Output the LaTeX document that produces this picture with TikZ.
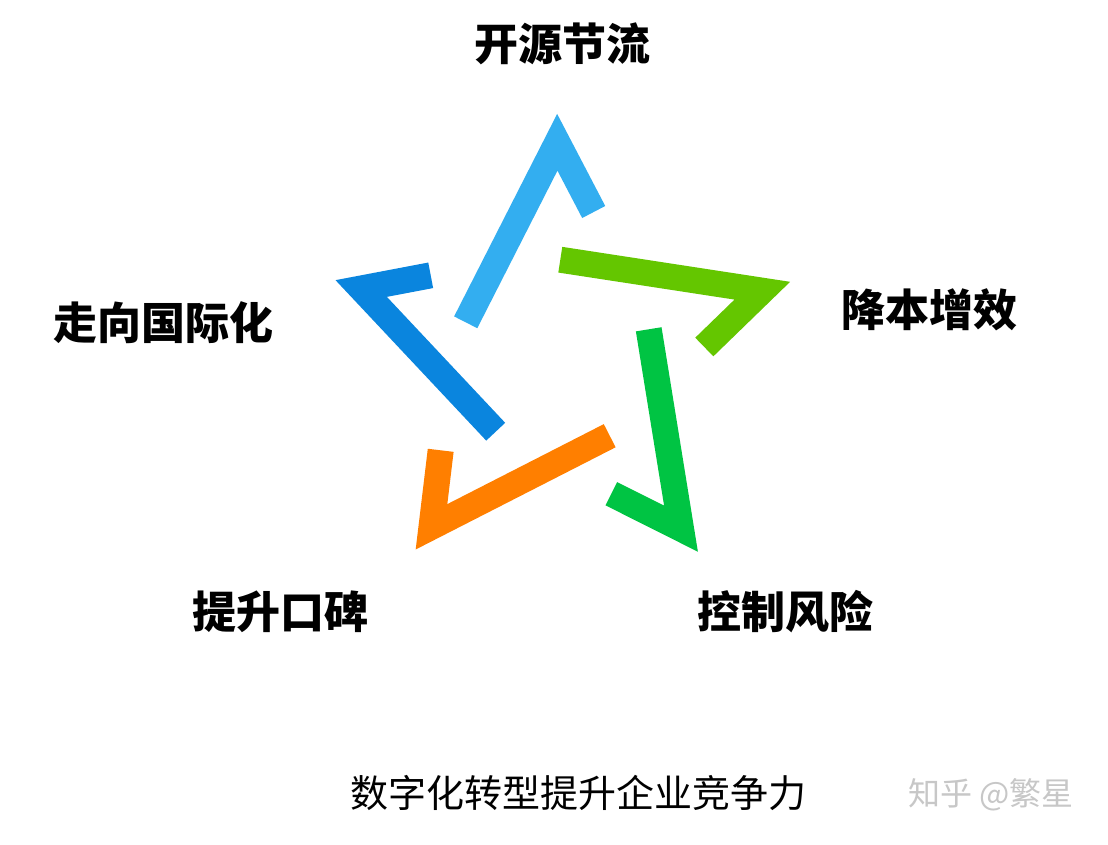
\documentclass[tikz,border=0pt]{standalone}
\usepackage{fontspec}
\newfontfamily\cjk{Noto Sans CJK SC}
\definecolor{cLightBlue}{RGB}{51,174,240}
\definecolor{cBlue}{RGB}{10,133,222}
\definecolor{cLime}{RGB}{100,198,0}
\definecolor{cGreen}{RGB}{0,196,67}
\definecolor{cOrange}{RGB}{255,127,0}
\begin{document}
\begin{tikzpicture}[x=1pt,y=-1pt,
  arm/.style={line width=26pt,line join=miter,miter limit=10,line cap=butt},
  lbl/.style={font=\cjk\bfseries\fontsize{44}{50}\selectfont,inner sep=0pt,text=black},
  ttl/.style={font=\cjk\fontsize{38}{44}\selectfont,inner sep=0pt,text=black},
  wm/.style={font=\cjk\fontsize{32}{38}\selectfont,inner sep=0pt,text=black!22}]
\useasboundingbox[fill=white] (0,0) rectangle (1108,844);
% light blue (top)
\draw[arm,cLightBlue] (465.7,322.3) -- (557.3,142.3) -- (593.7,212);
% lime (right)
\draw[arm,cLime] (560.3,259.7) -- (762.3,290.7) -- (704.3,347);
% green (bottom right)
\draw[arm,cGreen] (648.7,329.3) -- (681,528.7) -- (611.3,493.7);
% orange (bottom left)
\draw[arm,cOrange] (609.7,435.7) -- (431.5,526.8) -- (440.7,450.3);
% blue (left)
\draw[arm,cBlue] (495.7,431.7) -- (361.2,288.5) -- (430.7,275.3);
% labels
\node[lbl] (top) at (562,44) {开源节流};
\node[lbl] (right) at (929,310) {降本增效};
\node[lbl] (left) at (163,323) {走向国际化};
\node[lbl] (bl) at (280,612) {提升口碑};
\node[lbl] (br) at (785,612) {控制风险};
\node[ttl] (title) at (578,793) {数字化转型提升企业竞争力};
\node[wm] (mark) at (991,795) {知乎 @繁星};
\end{tikzpicture}
\end{document}
